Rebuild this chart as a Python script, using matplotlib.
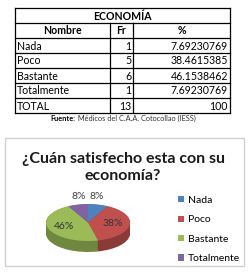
import numpy as np
import matplotlib
matplotlib.use("Agg")
import matplotlib.pyplot as plt
from matplotlib.patches import Rectangle
from matplotlib.colors import to_rgb

plt.rcParams['font.family'] = ['Lato', 'DejaVu Sans']

# data
table_title = "ECONOMÍA"
headers = ["Nombre", "Fr", "%"]
names = ["Nada", "Poco", "Bastante", "Totalmente"]
freq = [1, 5, 6, 1]
pct_text = ["7.69230769", "38.4615385", "46.1538462", "7.69230769"]
total_label = "TOTAL"
total_fr = 13
total_pct = "100"
source = "Médicos del C.A.A. Cotocollao (IESS)"
chart_title = "¿Cuán satisfecho esta con su\neconomía?"
colors = ["#4F81BD", "#C0504D", "#9BBB59", "#8064A2"]

W, H = 249, 277
fig = plt.figure(figsize=(W / 100, H / 100), dpi=100)
fig.patch.set_facecolor("white")

bg = fig.add_axes([0, 0, 1, 1])
bg.set_xlim(0, W)
bg.set_ylim(H, 0)
bg.axis("off")

# ---- table ----
xs = [15, 110, 133, 230]
ys = [8, 23, 38, 53, 68, 83, 98, 113]
lw = 0.9
for y in ys:
    bg.plot([xs[0], xs[-1]], [y, y], color="black", lw=lw)
for x in [xs[0], xs[-1]]:
    bg.plot([x, x], [ys[0], ys[-1]], color="black", lw=lw)
for x in xs[1:-1]:
    bg.plot([x, x], [ys[1], ys[-1]], color="black", lw=lw)

fs = 7.6
def mid(i):
    return (ys[i] + ys[i + 1]) / 2 + 0.5

bg.text((xs[0] + xs[-1]) / 2, mid(0), table_title, ha="center", va="center",
        fontsize=fs, fontweight="bold")
for j, h in enumerate(headers):
    bg.text((xs[j] + xs[j + 1]) / 2, mid(1), h, ha="center", va="center",
            fontsize=fs, fontweight="bold")

rows = list(zip(names, freq, pct_text)) + [(total_label, total_fr, total_pct)]
for i, (n, f, p) in enumerate(rows):
    r = i + 2
    bg.text(xs[0] + 2, mid(r), n, ha="left", va="center", fontsize=fs)
    bg.text(xs[2] - 2, mid(r), str(f), ha="right", va="center", fontsize=fs)
    bg.text(xs[3] - 2, mid(r), p, ha="right", va="center", fontsize=fs)

bg.text(75, 118.5, "Fuente:", ha="right", va="center", fontsize=5.3, fontweight="bold")
bg.text(76, 118.5, " " + source, ha="left", va="center", fontsize=5.3, color="#333333")

# ---- chart box ----
bg.add_patch(Rectangle((5, 138), 239, 128, fill=False, ec="#d0d0d0", lw=1))
bg.text(123, 167.5, chart_title, ha="center", va="center", fontsize=11.5,
        fontweight="bold", color="#1a1a1a", linespacing=1.2)

# ---- pseudo 3d pie ----
cx, cy, rx, ry, depth = 88, 222.5, 42, 18.5, 11
left, right, top, bottom = 38, 138, 195, 262
pax = fig.add_axes([left / W, 1 - bottom / H, (right - left) / W, (bottom - top) / H])
dark = [tuple(np.array(to_rgb(c)) * 0.72) for c in colors]
d_units = depth / ry
for k in np.linspace(d_units, 0.02, 14):
    pax.pie(freq, colors=dark, startangle=90, counterclock=False,
            center=(0, -k), wedgeprops=dict(linewidth=0))
wedges, _, autotexts = pax.pie(freq, colors=colors, startangle=90, counterclock=False,
                               autopct="%1.0f%%", pctdistance=0.6,
                               textprops=dict(fontsize=7.5, color="#333333"),
                               wedgeprops=dict(linewidth=0))
for w, t in zip(wedges, autotexts):
    if w.theta2 - w.theta1 < 36:
        a = np.deg2rad((w.theta1 + w.theta2) / 2)
        t.set_position((0.9 * np.cos(a), 1.42 * np.sin(a)))
        t.set_color("#404040")
pax.set_aspect("auto")
pax.set_xlim(-(cx - left) / rx, (right - cx) / rx)
pax.set_ylim(-(bottom - cy) / ry, (cy - top) / ry)
pax.axis("off")

fig.legend(wedges, names, loc="upper left", bbox_to_anchor=(178 / W, 1 - 196 / H),
           frameon=False, fontsize=7.5, handlelength=0.55, handleheight=0.55,
           handletextpad=0.4, labelspacing=1.0, borderpad=0, borderaxespad=0)

fig.savefig("out.png", dpi=100)
